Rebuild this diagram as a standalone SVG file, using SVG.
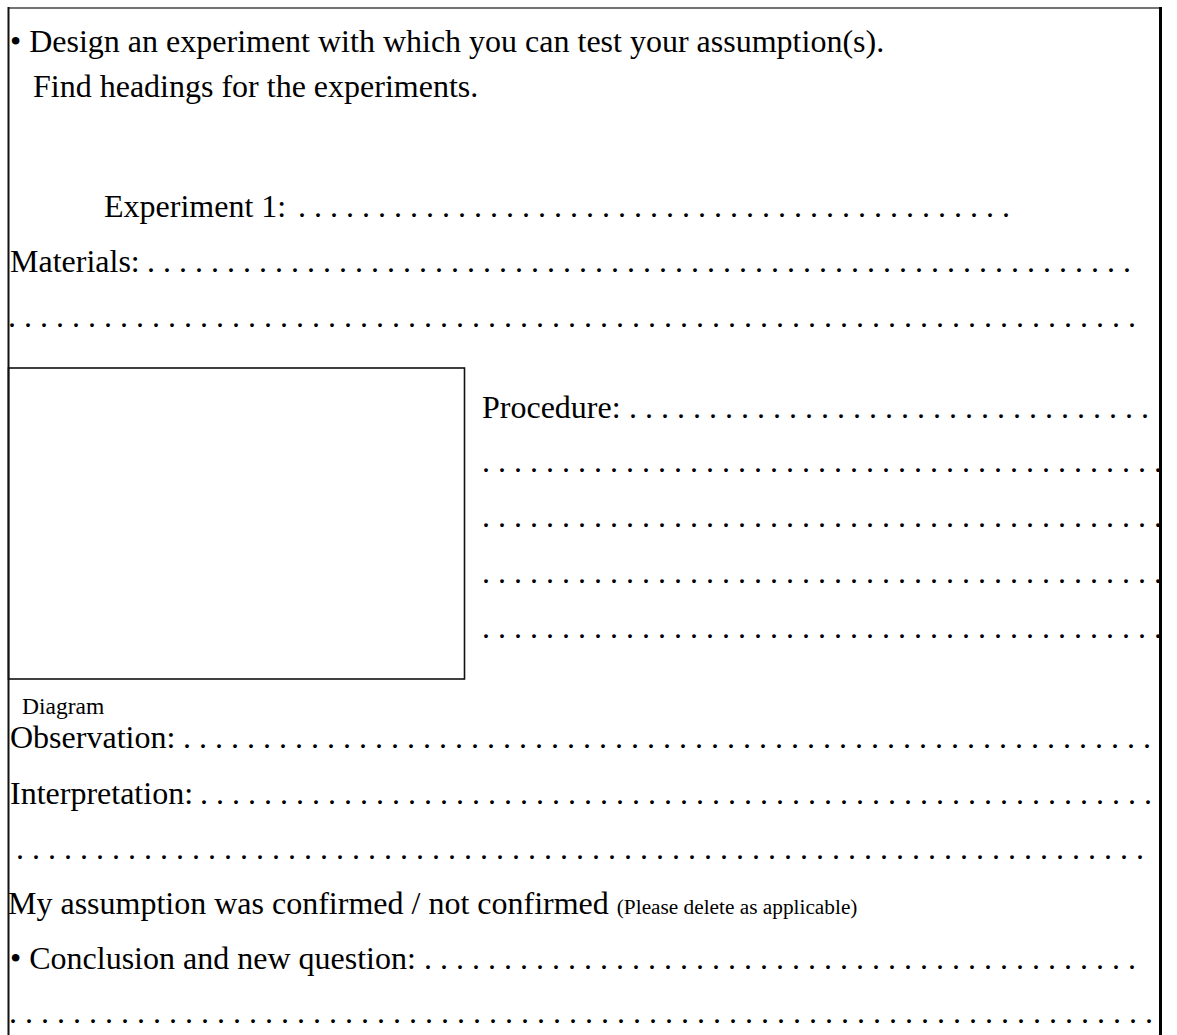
<svg xmlns="http://www.w3.org/2000/svg" width="1177" height="1035" viewBox="0 0 1177 1035">
<style>
.t{font-family:"Liberation Serif","Times New Roman",serif;font-size:32px;fill:#000}
.s{font-size:21.3px}
.d{font-size:23.5px}
.ln{stroke:#111;fill:none}
</style>
<defs>
<clipPath id="inner"><rect x="0" y="0" width="1160" height="1035"/></clipPath>
</defs>
<rect width="1177" height="1035" fill="#fff"/>
<g id="frame">
<line class="ln" x1="8" y1="8" x2="1160" y2="8" stroke-width="1.5" style="stroke:#444"/>
<line class="ln" x1="8.5" y1="7" x2="8.5" y2="1035" stroke-width="2"/>
<line class="ln" x1="1160.5" y1="7" x2="1160.5" y2="1035" stroke-width="3" style="stroke:#000"/>
</g>
<g id="diagram-box">
<rect class="ln" x="8.5" y="368" width="456" height="311" stroke-width="1.6"/>
<text class="t d" x="22" y="714">Diagram</text>
</g>
<g id="header">
<text class="t" x="10" y="52">• Design an experiment with which you can test your assumption(s).</text>
<text class="t" x="33" y="97">Find headings for the experiments.</text>
</g>
<g id="experiment">
<text class="t" x="104" y="217">Experiment 1:</text>
<text class="t" x="298" y="217">. . . . . . . . . . . . . . . . . . . . . . . . . . . . . . . . . . . . . . . . . . . . .</text>
</g>
<g id="materials">
<text class="t" x="10" y="272">Materials:</text>
<text class="t" x="147" y="272">. . . . . . . . . . . . . . . . . . . . . . . . . . . . . . . . . . . . . . . . . . . . . . . . . . . . . . . . . . . . . .</text>
<text class="t" x="8" y="327">. . . . . . . . . . . . . . . . . . . . . . . . . . . . . . . . . . . . . . . . . . . . . . . . . . . . . . . . . . . . . . . . . . . . . . .</text>
</g>
<g id="procedure" clip-path="url(#inner)">
<text class="t" x="482" y="418">Procedure:</text>
<text class="t" x="629" y="418">. . . . . . . . . . . . . . . . . . . . . . . . . . . . . . . . .</text>
<text class="t" x="482" y="472">. . . . . . . . . . . . . . . . . . . . . . . . . . . . . . . . . . . . . . . . . . .</text>
<text class="t" x="482" y="527">. . . . . . . . . . . . . . . . . . . . . . . . . . . . . . . . . . . . . . . . . . .</text>
<text class="t" x="482" y="583">. . . . . . . . . . . . . . . . . . . . . . . . . . . . . . . . . . . . . . . . . . .</text>
<text class="t" x="482" y="638">. . . . . . . . . . . . . . . . . . . . . . . . . . . . . . . . . . . . . . . . . . .</text>
</g>
<g id="observation">
<text class="t" x="10" y="748">Observation:</text>
<text class="t" x="183" y="748">. . . . . . . . . . . . . . . . . . . . . . . . . . . . . . . . . . . . . . . . . . . . . . . . . . . . . . . . . . . . .</text>
</g>
<g id="interpretation">
<text class="t" x="10" y="804">Interpretation:</text>
<text class="t" x="200" y="804">. . . . . . . . . . . . . . . . . . . . . . . . . . . . . . . . . . . . . . . . . . . . . . . . . . . . . . . . . . . .</text>
<text class="t" x="16" y="859">. . . . . . . . . . . . . . . . . . . . . . . . . . . . . . . . . . . . . . . . . . . . . . . . . . . . . . . . . . . . . . . . . . . . . . .</text>
</g>
<g id="assumption">
<text class="t" x="8" y="914">My assumption was confirmed / not confirmed <tspan class="s">(Please delete as applicable)</tspan></text>
</g>
<g id="conclusion">
<text class="t" x="10" y="969">• Conclusion and new question:</text>
<text class="t" x="424" y="969">. . . . . . . . . . . . . . . . . . . . . . . . . . . . . . . . . . . . . . . . . . . . .</text>
<text class="t" x="9" y="1023">. . . . . . . . . . . . . . . . . . . . . . . . . . . . . . . . . . . . . . . . . . . . . . . . . . . . . . . . . . . . . . . . . . . . . . . .</text>
</g>
</svg>
